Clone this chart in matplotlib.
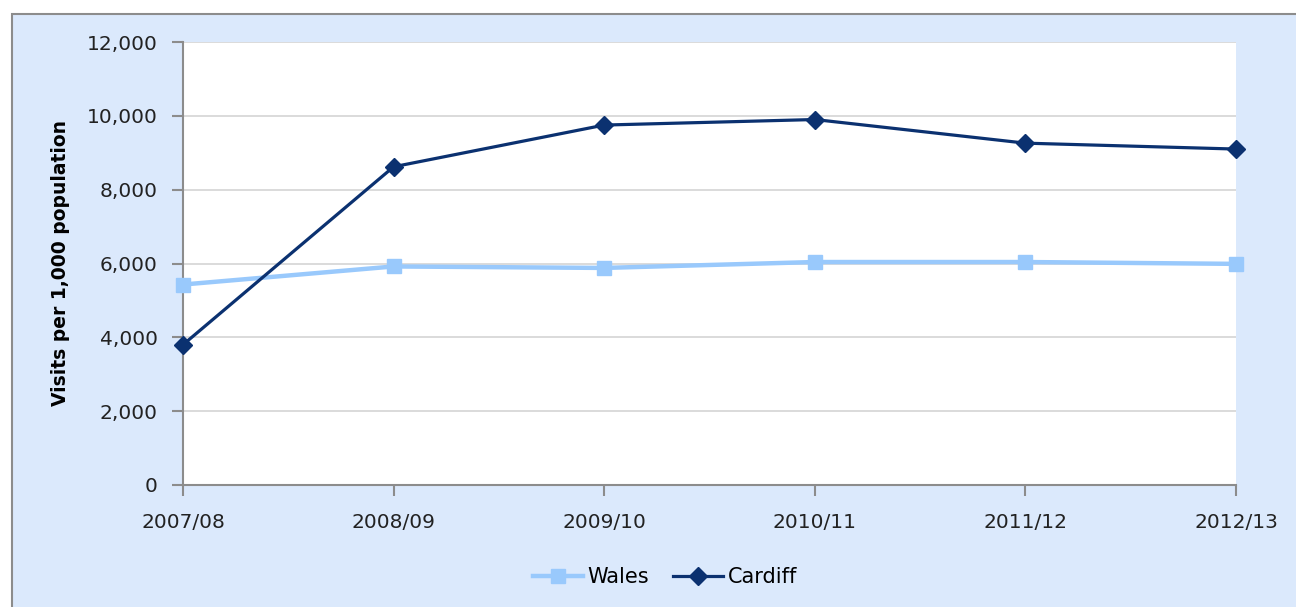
import matplotlib.pyplot as plt
from matplotlib.patches import Rectangle
from matplotlib.ticker import FuncFormatter

years = ['2007/08', '2008/09', '2009/10', '2010/11', '2011/12', '2012/13']
wales = [5430, 5920, 5880, 6040, 6040, 5990]
cardiff = [3800, 8620, 9750, 9900, 9260, 9100]

bg = '#dbe9fc'
wales_col = '#99c9fc'
cardiff_col = '#0b3170'

fig = plt.figure(figsize=(12.96, 6.07), dpi=100)
fig.patch.set_facecolor('white')
# light blue panel with a grey frame on the top and left
fig.patches.append(Rectangle((12 / 1296, -0.05), 1.1, 1 - 14 / 607 + 0.05,
                             transform=fig.transFigure, facecolor=bg,
                             edgecolor='#8c8c8c', linewidth=1.5, zorder=-10))

ax = fig.add_axes([183 / 1296, 1 - 485 / 607, (1236 - 183) / 1296, (485 - 42) / 607])
ax.set_facecolor('white')

x = range(len(years))
ax.plot(x, wales, color=wales_col, linewidth=3.2, marker='s', markersize=10,
        label='Wales', clip_on=False, zorder=3)
ax.plot(x, cardiff, color=cardiff_col, linewidth=2.3, marker='D', markersize=9.5,
        label='Cardiff', clip_on=False, zorder=4)

ax.set_xlim(0, len(years) - 1)
ax.set_ylim(0, 12000)
ax.set_yticks(range(0, 12001, 2000))
ax.yaxis.set_major_formatter(FuncFormatter(lambda v, p: f'{int(v):,}'))
ax.set_xticks(list(x))
ax.set_xticklabels(years)

ax.grid(axis='y', color='#d4d4d4', linewidth=1.2)
ax.set_axisbelow(True)
for s in ['top', 'right']:
    ax.spines[s].set_visible(False)
for s in ['left', 'bottom']:
    ax.spines[s].set_color('#8c8c8c')
    ax.spines[s].set_linewidth(1.5)

ax.tick_params(axis='y', length=8, width=1.5, color='#8c8c8c', labelsize=14.5,
               labelcolor='#222222', pad=10)
ax.tick_params(axis='x', length=8, width=1.5, color='#8c8c8c', labelsize=14.5,
               labelcolor='#222222', pad=12)

ax.set_ylabel('Visits per 1,000 population', fontsize=13.5, fontweight='bold',
              labelpad=12)

fig.legend(loc='center', bbox_to_anchor=(0.513, 1 - 577 / 607), ncol=2,
           frameon=False, fontsize=15, handlelength=2.4, handletextpad=0.2,
           columnspacing=1.2)

fig.savefig('out.png', dpi=100, facecolor=fig.get_facecolor())
